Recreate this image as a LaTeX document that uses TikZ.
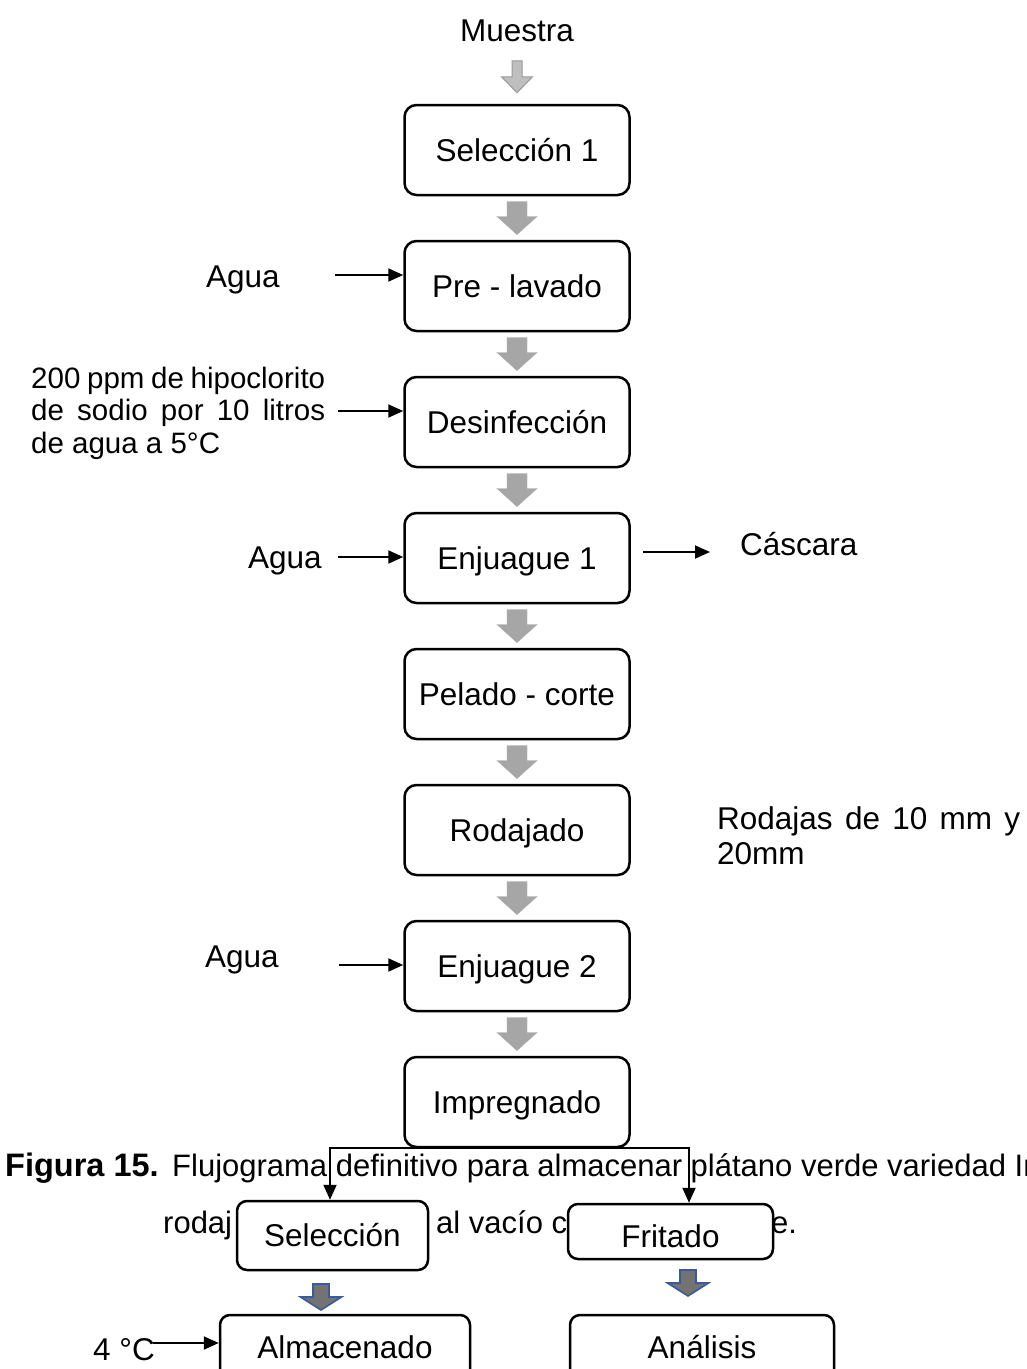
\documentclass[tikz,border=0pt]{standalone}
\usepackage{fontspec}
\setmainfont{Liberation Sans}
\usetikzlibrary{arrows.meta,calc}
\tikzset{
  bigarr/.pic={\path[pic actions] (-10,-16.5) -- (10,-16.5) -- (10,-1.5) -- (20,-1.5) -- (0,16.5) -- (-20,-1.5) -- (-10,-1.5) -- cycle;},
  smallarr/.pic={\path[pic actions] (-5,-16) -- (5,-16) -- (5,0) -- (15.5,0) -- (0,16) -- (-15.5,0) -- (-5,0) -- cycle;},
  bluearr/.pic={\path[pic actions] (-8,-13) -- (8,-13) -- (8,0) -- (20.5,0) -- (0,13) -- (-20.5,0) -- (-8,0) -- cycle;}
}
\begin{document}
\begin{tikzpicture}[x=1pt,y=-1pt,
  font=\fontsize{31.5}{33}\selectfont,
  every node/.style={inner sep=0pt},
  box/.style={draw, line width=2.5pt, rounded corners=12pt, minimum width=225pt, minimum height=90pt, fill=white, text height=22.5pt, text depth=0pt},
  sbox/.style={draw, line width=2.5pt, rounded corners=10pt, fill=white, text height=22.5pt, text depth=0pt},
  conn/.style={line width=2pt, -{Triangle[length=15pt,width=13pt]}},
  grayfill/.style={fill=black!35, draw=black!35},
  lightfill/.style={fill=black!25, draw=black!40, line width=1pt},
  bluefill/.style={fill=black!55, draw={rgb,255:red,58;green,90;blue,154}, line width=1.6pt}
]
\useasboundingbox (0,0) rectangle (1027,1369);
\clip (0,0) rectangle (1027,1369);
\fill[white] (0,0) rectangle (1027,1369);

% caption text (behind everything)
\node[anchor=base west, font=\fontsize{31}{33}\selectfont] (cap1) at (5,1176) {\textbf{\fontsize{32.5}{33}\selectfont Figura 15.}\kern2pt{} Flujograma definitivo para almacenar plátano verde variedad In};
\node[anchor=base west, font=\fontsize{31}{33}\selectfont] (cap2a) at (163,1233) {rodaj};
\node[anchor=base west, font=\fontsize{31}{33}\selectfont] (cap2b) at (436,1233) {al vacío c};
\node[anchor=base west, font=\fontsize{31}{33}\selectfont] (cap2c) at (771,1233) {e.};

% main column
\node[anchor=base] (m) at (517,41) {Muestra};
\node[box] (s1) at (517,150) {Selección 1};
\node[box] (s2) at (517,286) {Pre - lavado};
\node[box] (s3) at (517,422) {Desinfección};
\node[box] (s4) at (517,558) {Enjuague 1};
\node[box] (s5) at (517,694) {Pelado - corte};
\node[box] (s6) at (517,830) {Rodajado};
\node[box] (s7) at (517,966) {Enjuague 2};
\node[box] (s8) at (517,1102) {Impregnado};

\pic[lightfill] at ($(s1.north)+(0,-27)$) {smallarr};
\pic[grayfill] at ($(s1.south)!0.5!(s2.north)$) {bigarr};
\pic[grayfill] at ($(s2.south)!0.5!(s3.north)$) {bigarr};
\pic[grayfill] at ($(s3.south)!0.5!(s4.north)$) {bigarr};
\pic[grayfill] at ($(s4.south)!0.5!(s5.north)$) {bigarr};
\pic[grayfill] at ($(s5.south)!0.5!(s6.north)$) {bigarr};
\pic[grayfill] at ($(s6.south)!0.5!(s7.north)$) {bigarr};
\pic[grayfill] at ($(s7.south)!0.5!(s8.north)$) {bigarr};

% side labels
\node[anchor=base west] (ag1) at (206,287) {Agua};
\coordinate (a1) at (335,275);
\draw[conn] (a1) -- (a1 -| s2.west);

\node[anchor=base west, font=\fontsize{29.5}{32.5}\selectfont] (hip) at (31,388)
  {\begin{tabular}[t]{@{}l@{}}\makebox[294pt][s]{200 ppm de hipoclorito}\\ \makebox[294pt][s]{de sodio por 10 litros}\\ de agua a 5°C\end{tabular}};
\coordinate (a2) at (338,411);
\draw[conn] (a2) -- (a2 -| s3.west);

\node[anchor=base west] (ag2) at (248,568) {Agua};
\coordinate (a3) at (338,557);
\draw[conn] (a3) -- (a3 -| s4.west);

\coordinate (c1) at ($(s4.east)+(12.5,-6)$);
\coordinate (c2) at (710,552);
\draw[conn] (c1) -- (c2);
\node[anchor=base west] (casc) at (740,555) {Cáscara};

\node[anchor=base west] (rod) at (717,829)
  {\begin{tabular}[t]{@{}l@{}}\makebox[303pt][s]{Rodajas de 10 mm y}\\[2pt] 20mm\end{tabular}};

\node[anchor=base west] (ag3) at (205,967) {Agua};
\coordinate (a4) at (339,965);
\draw[conn] (a4) -- (a4 -| s7.west);

% bottom branches
\node[sbox, minimum width=191pt, minimum height=69pt] (sel) at (332.5,1235.5) {Selección};
\node[sbox, minimum width=205pt, minimum height=55pt, text height=32.5pt] (fri) at (670.5,1231.5) {Fritado};
\draw[conn] (s8.south) -| ([xshift=-2.5pt]sel.north);
\draw[conn] (s8.south) -| ([xshift=18.5pt]fri.north);

\node[sbox, minimum width=250pt, minimum height=65pt] (alm) at (345,1347.5) {Almacenado};
\node[sbox, minimum width=264pt, minimum height=65pt] (ana) at (702,1347.5) {Análisis};

\pic[bluefill] at (321,1297) {bluearr};
\pic[bluefill] at (688,1283) {bluearr};

\node[anchor=base west] (t4c) at (93,1360) {4 °C};
\coordinate (t4) at (153,1343);
\draw[conn] (t4) -- (t4 -| alm.west);
\end{tikzpicture}
\end{document}
